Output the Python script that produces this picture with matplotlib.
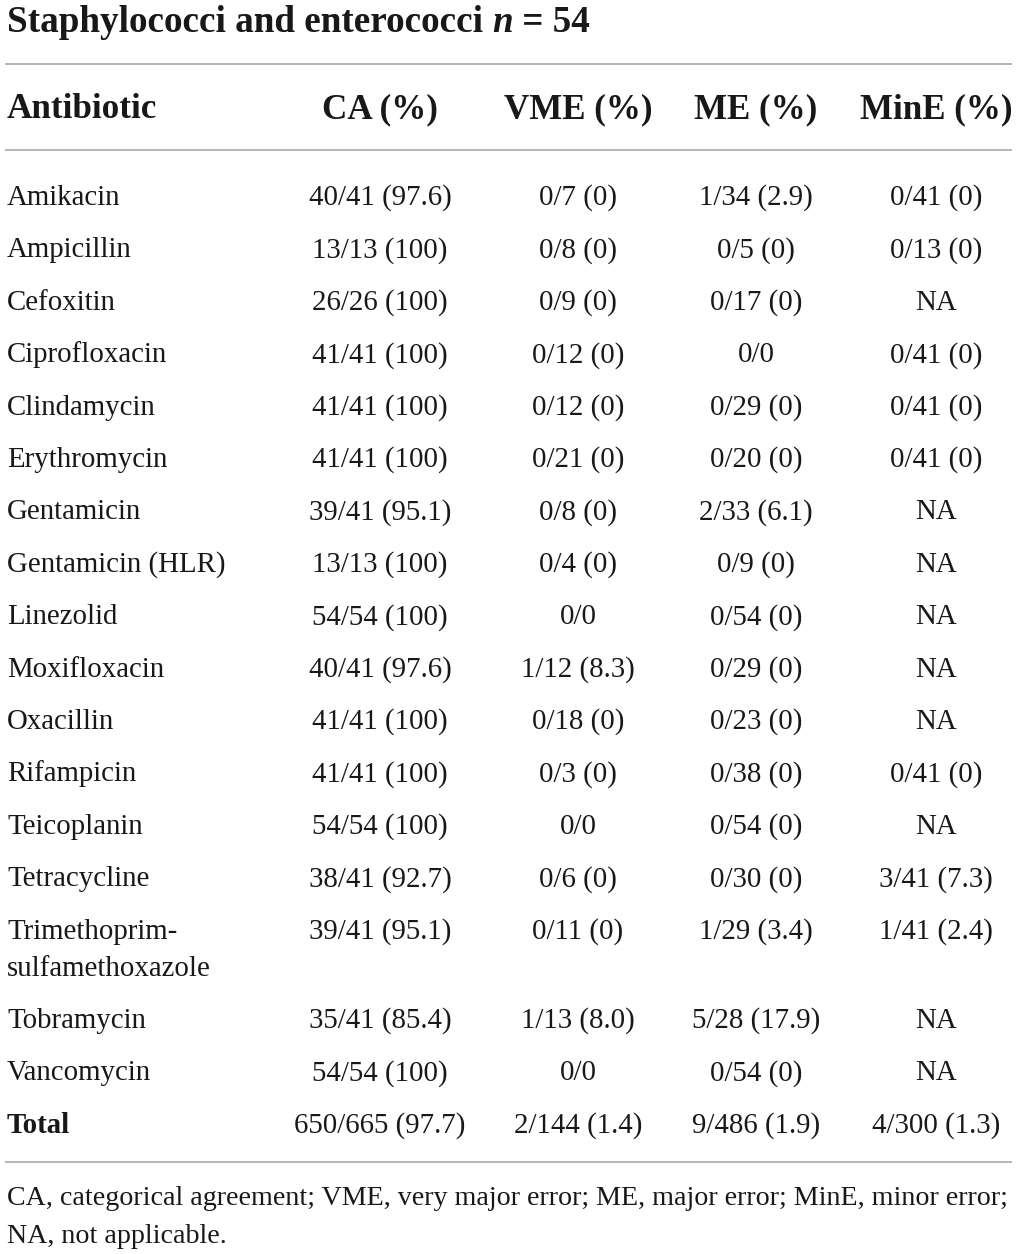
import matplotlib
matplotlib.use("Agg")
import matplotlib.pyplot as plt

# table content
antibiotics = ["Amikacin", "Ampicillin", "Cefoxitin", "Ciprofloxacin", "Clindamycin",
               "Erythromycin", "Gentamicin", "Gentamicin (HLR)", "Linezolid", "Moxifloxacin",
               "Oxacillin", "Rifampicin", "Teicoplanin", "Tetracycline",
               "Trimethoprim-\nsulfamethoxazole", "Tobramycin", "Vancomycin"]
ca = ["40/41 (97.6)", "13/13 (100)", "26/26 (100)", "41/41 (100)", "41/41 (100)",
      "41/41 (100)", "39/41 (95.1)", "13/13 (100)", "54/54 (100)", "40/41 (97.6)",
      "41/41 (100)", "41/41 (100)", "54/54 (100)", "38/41 (92.7)", "39/41 (95.1)",
      "35/41 (85.4)", "54/54 (100)"]
vme = ["0/7 (0)", "0/8 (0)", "0/9 (0)", "0/12 (0)", "0/12 (0)", "0/21 (0)", "0/8 (0)",
       "0/4 (0)", "0/0", "1/12 (8.3)", "0/18 (0)", "0/3 (0)", "0/0", "0/6 (0)",
       "0/11 (0)", "1/13 (8.0)", "0/0"]
me = ["1/34 (2.9)", "0/5 (0)", "0/17 (0)", "0/0", "0/29 (0)", "0/20 (0)", "2/33 (6.1)",
      "0/9 (0)", "0/54 (0)", "0/29 (0)", "0/23 (0)", "0/38 (0)", "0/54 (0)", "0/30 (0)",
      "1/29 (3.4)", "5/28 (17.9)", "0/54 (0)"]
mine = ["0/41 (0)", "0/13 (0)", "NA", "0/41 (0)", "0/41 (0)", "0/41 (0)", "NA", "NA",
        "NA", "NA", "NA", "0/41 (0)", "NA", "3/41 (7.3)", "1/41 (2.4)", "NA", "NA"]
total = ["Total", "650/665 (97.7)", "2/144 (1.4)", "9/486 (1.9)", "4/300 (1.3)"]
headers = ["Antibiotic", "CA (%)", "VME (%)", "ME (%)", "MinE (%)"]
footnote = ["CA, categorical agreement; VME, very major error; ME, major error; MinE, minor error;",
            "NA, not applicable."]

W, H = 1017, 1254
FONT = "Liberation Serif"
TXT = "#1a1718"
RULE = "#a0a0a0"

fig = plt.figure(figsize=(W / 100, H / 100), dpi=100)
ax = fig.add_axes([0, 0, 1, 1])
ax.set_xlim(0, W)
ax.set_ylim(H, 0)
ax.axis("off")

left = 7
col_x = [left, 380, 578, 756, 936]
body_fs = 20.8
sub_line = 37      # distance between wrapped lines inside a cell
row_step = 52.4
first_base = 205

# title with italic n
r = fig.canvas.get_renderer()
x = left
for part, style in [("Staphylococci and enterococci ", "normal"), ("n", "italic"), (" = 54", "normal")]:
    t = ax.text(x, 32, part, fontsize=26.7, fontweight="bold", fontstyle=style,
                family=FONT, color=TXT, va="baseline", ha="left")
    x += t.get_window_extent(renderer=r).width

# rules
for y in [64, 150, 1162]:
    ax.plot([5, 1012], [y, y], color=RULE, lw=1.1, solid_capstyle="butt")

# header row
for i, h in enumerate(headers):
    ax.text(col_x[i], 118, h, fontsize=25.2, fontweight="bold", family=FONT, color=TXT,
            va="baseline", ha="left" if i == 0 else "center")

# body rows
base = first_base
for i, name in enumerate(antibiotics):
    cells = [name, ca[i], vme[i], me[i], mine[i]]
    for j, c in enumerate(cells):
        for k, line in enumerate(c.split("\n")):
            ax.text(col_x[j], base + k * sub_line, line, fontsize=body_fs, family=FONT,
                    color=TXT, va="baseline", ha="left" if j == 0 else "center")
    base += row_step + sub_line * name.count("\n")

# total row
for j, c in enumerate(total):
    ax.text(col_x[j], base, c, fontsize=body_fs, family=FONT, color=TXT,
            fontweight="bold" if j == 0 else "normal",
            va="baseline", ha="left" if j == 0 else "center")

# footnote
for k, line in enumerate(footnote):
    ax.text(left, 1205 + k * 38, line, fontsize=20.2, family=FONT, color=TXT,
            va="baseline", ha="left")

fig.savefig("out.png", dpi=100, facecolor="white")
